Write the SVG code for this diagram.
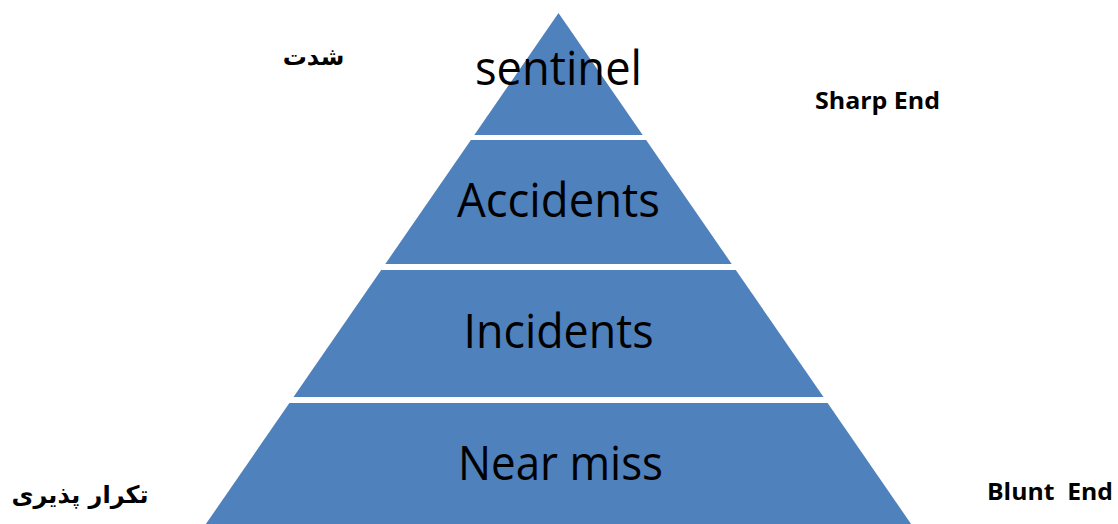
<svg xmlns="http://www.w3.org/2000/svg" width="1118" height="524" viewBox="0 0 1118 524">
<style>
.band{fill:#4F81BD;}
.lbl{font-family:"Open Sans","Noto Sans",sans-serif;font-size:48px;fill:#000;text-anchor:middle;}
.side{font-family:"Open Sans","Noto Sans",sans-serif;font-size:24px;font-weight:bold;fill:#000;}
.fa{font-family:"DejaVu Sans",sans-serif;font-size:24px;font-weight:bold;fill:#000;text-anchor:middle;direction:rtl;}
</style>
<rect width="1118" height="524" fill="#fff"/>
<g id="sentinel">
<polygon class="band" points="558.5,13 642.7,135 474.3,135"/>
<text class="lbl" x="558.5" y="85" textLength="167" lengthAdjust="spacingAndGlyphs">sentinel</text>
</g>
<g id="accidents">
<polygon class="band" points="470.9,140 646.1,140 731.7,264 385.3,264"/>
<text class="lbl" x="558.5" y="217" textLength="203" lengthAdjust="spacingAndGlyphs">Accidents</text>
</g>
<g id="incidents">
<polygon class="band" points="381.2,270 735.8,270 823.5,397 293.5,397"/>
<text class="lbl" x="558.5" y="348" textLength="190" lengthAdjust="spacingAndGlyphs">Incidents</text>
</g>
<g id="near-miss">
<polygon class="band" points="289.4,403 827.6,403 911.1,524 205.9,524"/>
<text class="lbl" x="560.5" y="480" textLength="205" lengthAdjust="spacingAndGlyphs">Near miss</text>
</g>
<g id="severity">
<text class="fa" x="313.5" y="65">شدت</text>
</g>
<g id="frequency">
<text class="fa" x="80" y="503">تکرار پذیری</text>
</g>
<g id="sharp-end">
<text class="side" x="815" y="109" textLength="125" lengthAdjust="spacingAndGlyphs">Sharp End</text>
</g>
<g id="blunt-end">
<text class="side" x="987" y="500" textLength="126" lengthAdjust="spacingAndGlyphs" xml:space="preserve">Blunt  End</text>
</g>
<g id="connectors"></g>
</svg>
